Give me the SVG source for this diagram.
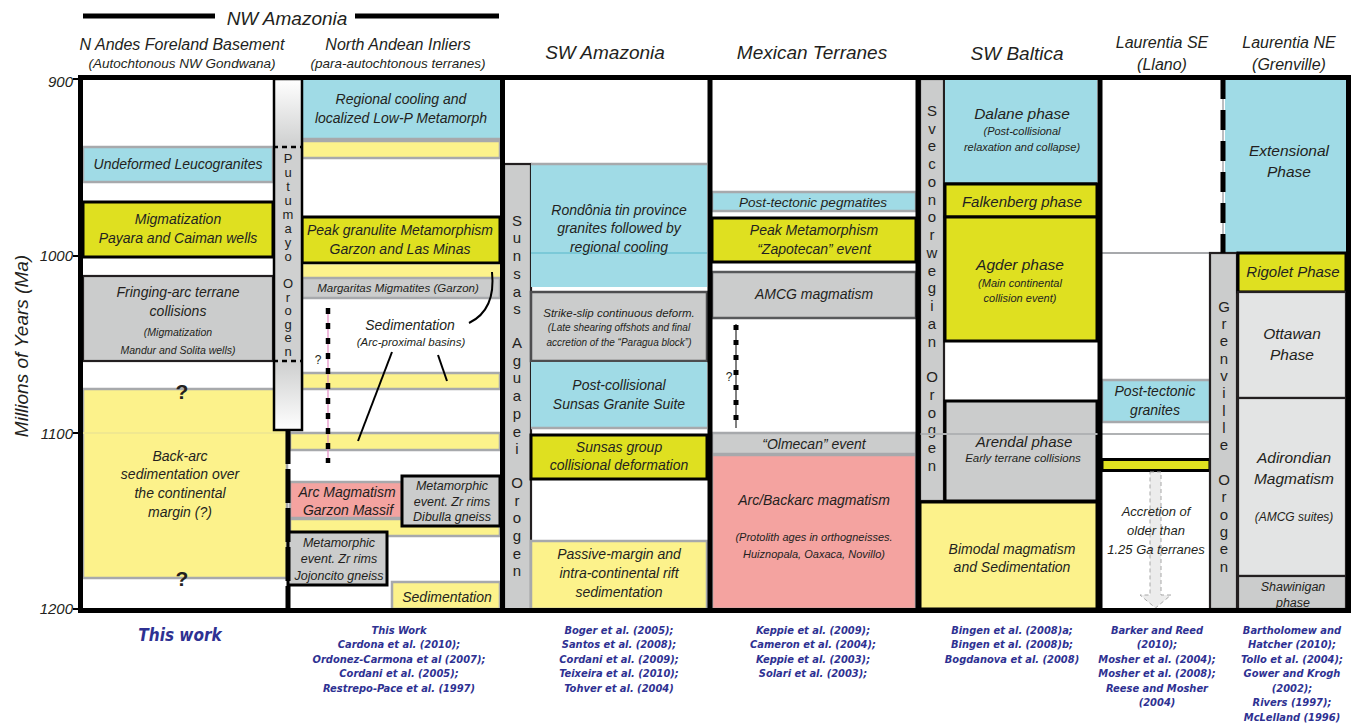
<svg xmlns="http://www.w3.org/2000/svg" width="1359" height="723" viewBox="0 0 1359 723">
<defs>
<linearGradient id="putu" x1="0" y1="0" x2="0" y2="1">
<stop offset="0" stop-color="#ffffff"/>
<stop offset="0.19" stop-color="#cfd0d0"/>
<stop offset="0.81" stop-color="#cfd0d0"/>
<stop offset="1" stop-color="#ffffff"/>
</linearGradient>
<style>
.b{fill:#a0dbe6}
.yg{fill:#dfe020}
.ly{fill:#fcf28b}
.g{fill:#cbcccc}
.pk{fill:#f4a3a0}
.lg{fill:#e3e4e4}
.kb{stroke:#000;stroke-width:3}
.kt{stroke:#231f20;stroke-width:2.2}
.gs{stroke:#a7a9ac;stroke-width:2.5}
.t{font-family:"Liberation Sans",Arial,sans-serif;font-style:italic;fill:#231f20;text-anchor:middle;font-size:14px}
.m{font-size:11.5px}
.s{font-size:10.5px}
.xs{font-size:10px}
.l{font-size:15.5px}
.hd{font-size:19px}
.h2{font-size:16px}
.h3{font-size:13.5px}
.v{font-family:"Liberation Sans",Arial,sans-serif;fill:#231f20;text-anchor:middle;font-size:15px}
.vp{font-size:13px}
.q{font-family:"Liberation Sans",Arial,sans-serif;font-weight:bold;font-size:21px;text-anchor:middle;fill:#231f20}
.qs{font-family:"Liberation Sans",Arial,sans-serif;font-size:12px;text-anchor:middle;fill:#231f20}
.ref{font-family:"Liberation Sans Narrow","DejaVu Sans Condensed",sans-serif;font-weight:bold;font-style:italic;fill:#2e3192;text-anchor:middle;font-size:11px}
.ax{font-family:"Liberation Sans",Arial,sans-serif;font-style:italic;fill:#231f20;text-anchor:end;font-size:15px}
</style>
</defs>
<rect x="0" y="0" width="1359" height="723" fill="#fff"/>

<!-- headers -->
<g id="headers">
<line x1="83" y1="16" x2="215" y2="16" stroke="#000" stroke-width="5"/>
<line x1="355" y1="16" x2="499" y2="16" stroke="#000" stroke-width="5"/>
<text class="t hd" x="287" y="25">NW Amazonia</text>
<text class="t h2" x="182" y="50">N Andes Foreland Basement</text>
<text class="t h3" x="182" y="68">(Autochtonous NW Gondwana)</text>
<text class="t h2" x="398" y="50">North Andean Inliers</text>
<text class="t h3" x="398" y="68">(para-autochtonous terranes)</text>
<text class="t hd" x="605" y="59">SW Amazonia</text>
<text class="t hd" x="812" y="59">Mexican Terranes</text>
<text class="t hd" x="1017" y="60">SW Baltica</text>
<text class="t h2" x="1162" y="48">Laurentia SE</text>
<text class="t h2" x="1162" y="70">(Llano)</text>
<text class="t h2" x="1289" y="48">Laurentia NE</text>
<text class="t h2" x="1289" y="70">(Grenville)</text>
</g>

<!-- axis -->
<g id="axis">
<text class="ax" x="73" y="87">900</text>
<text class="ax" x="73" y="261">1000</text>
<text class="ax" x="73" y="439">1100</text>
<text class="ax" x="73" y="614">1200</text>
<g stroke="#000" stroke-width="2">
<line x1="73" y1="79" x2="80" y2="79"/>
<line x1="73" y1="256" x2="80" y2="256"/>
<line x1="73" y1="433" x2="80" y2="433"/>
<line x1="73" y1="609" x2="80" y2="609"/>
</g>
<text class="t" style="font-size:19px" transform="translate(28,346) rotate(-90)">Millions of Years (Ma)</text>
</g>

<!-- Column 1: N Andes Foreland Basement -->
<g id="c1-leuco"><rect x="83" y="147" width="190" height="35" class="b gs"/><text class="t" x="178" y="169">Undeformed Leucogranites</text></g>
<g id="c1-migm"><rect x="83" y="202" width="190" height="55" class="yg kb"/><text class="t" x="178" y="224">Migmatization</text><text class="t" x="178" y="243">Payara and Caiman wells</text></g>
<g id="c1-fring"><rect x="83" y="276" width="190" height="85" class="g kt"/><text class="t" x="178" y="297">Fringing-arc terrane</text><text class="t" x="178" y="316">collisions</text><text class="t s" x="178" y="336">(Migmatization</text><text class="t s" x="178" y="354">Mandur and Solita wells)</text></g>
<g id="c1-backarc"><rect x="83" y="389" width="204" height="189" class="ly gs"/>
<line x1="83" y1="433" x2="287" y2="433" stroke="#ece592" stroke-width="1.5"/>
<text class="q" x="182" y="399">?</text><text class="q" x="182" y="586">?</text>
<text class="t" x="180" y="461">Back-arc</text><text class="t" x="180" y="479">sedimentation over</text><text class="t" x="180" y="498">the continental</text><text class="t" x="180" y="517">margin (?)</text></g>

<!-- Column 2: North Andean Inliers -->
<g id="c2-cool"><rect x="302" y="80" width="198" height="59" class="b"/><line x1="302" y1="139" x2="500" y2="139" class="gs"/><text class="t" x="401" y="104">Regional cooling and</text><text class="t" x="401" y="123">localized Low-P Metamorph</text></g>
<g id="c2-band1"><rect x="302" y="141" width="198" height="17" class="ly gs"/></g>
<g id="c2-peak"><rect x="302" y="217" width="198" height="46" class="yg kb"/><text class="t" x="400" y="235">Peak granulite Metamorphism</text><text class="t" x="400" y="254">Garzon and Las Minas</text></g>
<g id="c2-band2"><rect x="302" y="264.5" width="198" height="13" class="ly"/></g>
<g id="c2-marg"><rect x="302" y="278" width="198" height="20" class="g gs"/><text class="t m" x="398" y="292">Margaritas Migmatites (Garzon)</text></g>
<g id="c2-band3"><rect x="302" y="373" width="198" height="16" class="ly gs"/></g>
<g id="c2-band4"><rect x="290" y="433" width="210" height="17" class="ly gs"/></g>
<g id="c2-arc"><rect x="290" y="482" width="112" height="36" class="pk gs"/><text class="t" x="347" y="497">Arc Magmatism</text><text class="t" x="348" y="515">Garzon Massif</text></g>
<g id="c2-band5"><rect x="290" y="519" width="210" height="17" class="ly gs"/></g>
<g id="c2-dibulla"><rect x="402" y="476" width="98" height="50" class="g kb"/><text class="t" style="font-size:12.5px" x="452" y="490">Metamorphic</text><text class="t" style="font-size:12.5px" x="452" y="506">event. Zr rims</text><text class="t" style="font-size:12.5px" x="452" y="521">Dibulla gneiss</text></g>
<g id="c2-jojon"><rect x="288" y="532" width="99" height="53" class="g kb"/><text class="t" style="font-size:12.5px" x="339" y="547">Metamorphic</text><text class="t" style="font-size:12.5px" x="339" y="563">event. Zr rims</text><text class="t" style="font-size:12.5px" x="339" y="580">Jojoncito gneiss</text></g>
<g id="c2-sed"><rect x="392" y="582" width="108" height="27" class="ly gs"/><text class="t" x="447" y="602">Sedimentation</text></g>
<g id="c2-sedlabel"><text class="t" x="410" y="330">Sedimentation</text><text class="t m" x="411" y="346">(Arc-proximal basins)</text></g>

<!-- Putumayo orogen -->
<g id="putumayo">
<rect x="274" y="79" width="28" height="351" fill="url(#putu)" stroke="#000" stroke-width="2.5"/>
<line x1="273" y1="147" x2="302" y2="147" stroke="#000" stroke-width="2.5" stroke-dasharray="5 4"/>
<line x1="273" y1="361" x2="302" y2="361" stroke="#000" stroke-width="2.5" stroke-dasharray="5 4"/>
<text class="v vp"><tspan x="288" y="163">P</tspan><tspan x="288" y="177">u</tspan><tspan x="288" y="191">t</tspan><tspan x="288" y="205">u</tspan><tspan x="288" y="219">m</tspan><tspan x="288" y="233">a</tspan><tspan x="288" y="247">y</tspan><tspan x="288" y="261">o</tspan><tspan x="288" y="288">O</tspan><tspan x="288" y="302">r</tspan><tspan x="288" y="315">o</tspan><tspan x="288" y="329">g</tspan><tspan x="288" y="342">e</tspan><tspan x="288" y="356">n</tspan></text>
</g>

<!-- SW Amazonia -->
<g id="sunsas">
<rect x="504" y="164" width="27" height="446" class="g kt"/>
<text class="v"><tspan x="517" y="226">S</tspan><tspan x="517" y="243">u</tspan><tspan x="517" y="261">n</tspan><tspan x="517" y="279">s</tspan><tspan x="517" y="297">a</tspan><tspan x="517" y="314">s</tspan><tspan x="517" y="348">A</tspan><tspan x="517" y="366">g</tspan><tspan x="517" y="383">u</tspan><tspan x="517" y="401">a</tspan><tspan x="517" y="419">p</tspan><tspan x="517" y="437">e</tspan><tspan x="517" y="454">i</tspan><tspan x="517" y="488">O</tspan><tspan x="517" y="506">r</tspan><tspan x="517" y="523">o</tspan><tspan x="517" y="541">g</tspan><tspan x="517" y="559">e</tspan><tspan x="517" y="576">n</tspan></text>
</g>
<g id="swa-rond"><rect x="531" y="164" width="176" height="123" class="b"/><line x1="531" y1="164" x2="707" y2="164" class="gs"/><line x1="531" y1="253" x2="707" y2="253" stroke="#6fc3d3" stroke-width="1.5"/><text class="t" x="619" y="215">Rondônia tin province</text><text class="t" x="619" y="233">granites followed by</text><text class="t" x="619" y="252">regional cooling</text></g>
<g id="swa-strike"><rect x="531" y="292" width="176" height="69" class="g" stroke="#4d4d4f" stroke-width="2.5"/><text class="t m" x="619" y="317">Strike-slip continuous deform.</text><text class="t xs" x="619" y="331">(Late shearing offshots and final</text><text class="t xs" x="619" y="346">accretion of the “Paragua block”)</text></g>
<g id="swa-post"><rect x="531" y="362" width="176" height="66" class="b"/><line x1="531" y1="428" x2="707" y2="428" class="gs"/><text class="t" x="619" y="390">Post-collisional</text><text class="t" x="619" y="409">Sunsas Granite Suite</text></g>
<g id="swa-group"><rect x="531" y="435" width="176" height="44" class="yg kb"/><text class="t" x="619" y="452">Sunsas group</text><text class="t" x="619" y="470">collisional deformation</text></g>
<g id="swa-passive"><rect x="531" y="541" width="176" height="68" class="ly gs"/><text class="t" x="619" y="559">Passive-margin and</text><text class="t" x="619" y="578">intra-continental rift</text><text class="t" x="619" y="597">sedimentation</text></g>

<!-- Mexican terranes -->
<g id="mx-peg"><rect x="712" y="192" width="204" height="19" class="b gs"/><text class="t" style="font-size:13.5px" x="813" y="207">Post-tectonic pegmatites</text></g>
<g id="mx-peak"><rect x="712" y="218" width="204" height="44" class="yg kb"/><text class="t" x="814" y="235">Peak Metamorphism</text><text class="t" x="814" y="254">“Zapotecan” event</text></g>
<g id="mx-amcg"><rect x="712" y="272" width="204" height="46" class="g" stroke="#58595b" stroke-width="2.5"/><text class="t" x="814" y="299">AMCG magmatism</text></g>
<g id="mx-olm"><rect x="712" y="433" width="204" height="21" class="g gs"/><text class="t" x="814" y="449">“Olmecan” event</text></g>
<g id="mx-arc"><rect x="712" y="455" width="204" height="154" class="pk gs"/><text class="t" x="814" y="505">Arc/Backarc magmatism</text><text class="t s" style="font-size:11px" x="814" y="541">(Protolith ages in orthogneisses.</text><text class="t s" style="font-size:11px" x="814" y="558">Huiznopala, Oaxaca, Novillo)</text></g>

<!-- SW Baltica -->
<g id="svec">
<rect x="920" y="79" width="24" height="422" class="g kt"/>
<text class="v"><tspan x="932" y="116">S</tspan><tspan x="932" y="134">v</tspan><tspan x="932" y="151">e</tspan><tspan x="932" y="169">c</tspan><tspan x="932" y="187">o</tspan><tspan x="932" y="205">n</tspan><tspan x="932" y="222">o</tspan><tspan x="932" y="240">r</tspan><tspan x="932" y="258">w</tspan><tspan x="932" y="276">e</tspan><tspan x="932" y="293">g</tspan><tspan x="932" y="311">i</tspan><tspan x="932" y="329">a</tspan><tspan x="932" y="347">n</tspan><tspan x="932" y="382">O</tspan><tspan x="932" y="400">r</tspan><tspan x="932" y="418">o</tspan><tspan x="932" y="435">g</tspan><tspan x="932" y="453">e</tspan><tspan x="932" y="471">n</tspan></text>
</g>
<g id="bal-dalane"><rect x="945" y="79" width="152" height="105" class="b"/><line x1="945" y1="184" x2="1097" y2="184" class="kb"/><text class="t l" x="1022" y="119">Dalane phase</text><text class="t s" style="font-size:11px" x="1022" y="135">(Post-collisional</text><text class="t s" style="font-size:11px" x="1022" y="151">relaxation and collapse)</text></g>
<g id="bal-falk"><rect x="945" y="184" width="152" height="33" class="yg kb"/><text class="t" style="font-size:15px" x="1022" y="207">Falkenberg phase</text></g>
<g id="bal-agder"><rect x="945" y="217" width="152" height="124" class="yg kb"/><text class="t l" x="1020" y="270">Agder phase</text><text class="t s" style="font-size:11px" x="1020" y="287">(Main continental</text><text class="t s" style="font-size:11px" x="1020" y="302">collision event)</text></g>
<g id="bal-arendal"><rect x="945" y="401" width="152" height="100" class="g kb"/><text class="t" style="font-size:15px" x="1024" y="447">Arendal phase</text><text class="t m" x="1023" y="462">Early terrane collisions</text></g>
<g id="bal-bimodal"><rect x="920" y="502" width="177" height="107" class="ly kb"/><text class="t" x="1012" y="554">Bimodal magmatism</text><text class="t" x="1012" y="572">and Sedimentation</text></g>
<line x1="920" y1="434" x2="1210" y2="434" stroke="#b0b2b4" stroke-width="2"/>

<!-- Laurentia SE -->
<g id="se-line"><line x1="1102" y1="253" x2="1210" y2="253" stroke="#a7a9ac" stroke-width="2"/></g>
<g id="se-granites"><rect x="1102" y="380" width="108" height="42" class="b gs"/><text class="t" x="1155" y="396">Post-tectonic</text><text class="t" x="1155" y="415">granites</text></g>
<g id="se-band"><rect x="1102" y="459.5" width="108" height="11" class="yg kb"/></g>
<g id="se-accretion">
<polygon points="1150,472 1161,472 1161,595 1171,595 1155.5,608 1140,595 1150,595" fill="#ececec" stroke="#a8a8a8" stroke-width="1" stroke-dasharray="4 3"/>
<text class="t" style="font-size:13px" x="1156" y="516">Accretion of</text><text class="t" style="font-size:13px" x="1156" y="535">older than</text><text class="t" style="font-size:13px" x="1156" y="554">1.25 Ga terranes</text>
</g>

<!-- Laurentia NE -->
<g id="ne-ext"><rect x="1225" y="79" width="121" height="174" class="b"/><text class="t l" x="1289" y="156">Extensional</text><text class="t l" x="1289" y="177">Phase</text></g>
<g id="grenville">
<rect x="1210" y="253" width="27" height="356" class="g kt"/>
<text class="v"><tspan x="1224" y="312">G</tspan><tspan x="1224" y="329">r</tspan><tspan x="1224" y="346">e</tspan><tspan x="1224" y="364">n</tspan><tspan x="1224" y="381">v</tspan><tspan x="1224" y="398">i</tspan><tspan x="1224" y="416">l</tspan><tspan x="1224" y="433">l</tspan><tspan x="1224" y="450">e</tspan><tspan x="1224" y="485">O</tspan><tspan x="1224" y="502">r</tspan><tspan x="1224" y="520">o</tspan><tspan x="1224" y="537">g</tspan><tspan x="1224" y="554">e</tspan><tspan x="1224" y="572">n</tspan></text>
</g>
<g id="ne-rigolet"><rect x="1238" y="253" width="108" height="39" class="yg kb"/><text class="t" style="font-size:15px" x="1293" y="277">Rigolet Phase</text></g>
<g id="ne-ottawan"><rect x="1238" y="292" width="108" height="106" class="lg kt"/><text class="t l" x="1292" y="339">Ottawan</text><text class="t l" x="1292" y="360">Phase</text></g>
<g id="ne-adir"><rect x="1238" y="398" width="108" height="178" class="lg kt"/><text class="t l" x="1294" y="463">Adirondian</text><text class="t l" x="1294" y="484">Magmatism</text><text class="t" style="font-size:12px" x="1294" y="521">(AMCG suites)</text></g>
<g id="ne-shaw"><rect x="1238" y="576" width="108" height="33" class="g kt"/><text class="t" style="font-size:12.5px" x="1293" y="591">Shawinigan</text><text class="t" style="font-size:12.5px" x="1293" y="607">phase</text></g>

<!-- connectors / boundary markers -->
<g id="connectors" fill="none">
<line x1="288" y1="430" x2="288" y2="609" stroke="#000" stroke-width="5" stroke-dasharray="34 5"/>
<line x1="328" y1="308" x2="328" y2="463" stroke="#e58bc4" stroke-width="1.2"/>
<line x1="328" y1="308" x2="328" y2="463" stroke="#000" stroke-width="4.5" stroke-dasharray="6 9"/>
<text class="qs" x="318" y="364">?</text>
<line x1="736" y1="324" x2="736" y2="428" stroke="#000" stroke-width="1"/>
<line x1="736" y1="325" x2="736" y2="428" stroke="#000" stroke-width="5" stroke-dasharray="5 10"/>
<text class="qs" x="729" y="381">?</text>
<path d="M469 323 Q496 310 492 272" stroke="#000" stroke-width="2"/>
<line x1="392" y1="352" x2="358" y2="441" stroke="#000" stroke-width="2"/>
<line x1="438" y1="355" x2="447" y2="381" stroke="#000" stroke-width="2"/>
<line x1="1223" y1="79" x2="1223" y2="253" stroke="#a7a9ac" stroke-width="1.5"/>
<line x1="1223" y1="79" x2="1223" y2="253" stroke="#000" stroke-width="5" stroke-dasharray="20 11"/>
</g>

<!-- frame -->
<g id="frame" fill="none" stroke="#000" stroke-width="5">
<rect x="80.5" y="77.5" width="1268" height="533"/>
<line x1="502.5" y1="77" x2="502.5" y2="612"/>
<line x1="710" y1="77" x2="710" y2="612"/>
<line x1="918" y1="77" x2="918" y2="612"/>
<line x1="1100" y1="77" x2="1100" y2="612"/>
</g>

<!-- references -->
<g id="refs">
<text class="ref" style="font-size:17px" x="180" y="641">This work</text>
<text class="ref"><tspan x="399" y="634">This Work</tspan><tspan x="399" y="648">Cardona et al. (2010);</tspan><tspan x="399" y="663">Ordonez-Carmona et al (2007);</tspan><tspan x="399" y="677">Cordani et al. (2005);</tspan><tspan x="399" y="692">Restrepo-Pace et al. (1997)</tspan></text>
<text class="ref"><tspan x="619" y="634">Boger et al. (2005);</tspan><tspan x="619" y="648">Santos et al. (2008);</tspan><tspan x="619" y="663">Cordani et al. (2009);</tspan><tspan x="619" y="677">Teixeira et al. (2010);</tspan><tspan x="619" y="692">Tohver et al. (2004)</tspan></text>
<text class="ref"><tspan x="813" y="634">Keppie et al. (2009);</tspan><tspan x="813" y="648">Cameron et al. (2004);</tspan><tspan x="813" y="663">Keppie et al. (2003);</tspan><tspan x="813" y="677">Solari et al. (2003);</tspan></text>
<text class="ref"><tspan x="1012" y="634">Bingen et al. (2008)a;</tspan><tspan x="1012" y="648">Bingen et al. (2008)b;</tspan><tspan x="1012" y="663">Bogdanova et al. (2008)</tspan></text>
<text class="ref"><tspan x="1157" y="634">Barker and Reed</tspan><tspan x="1157" y="648">(2010);</tspan><tspan x="1157" y="663">Mosher et al. (2004);</tspan><tspan x="1157" y="677">Mosher et al. (2008);</tspan><tspan x="1157" y="692">Reese and Mosher</tspan><tspan x="1157" y="706">(2004)</tspan></text>
<text class="ref"><tspan x="1292" y="634">Bartholomew and</tspan><tspan x="1292" y="648">Hatcher (2010);</tspan><tspan x="1292" y="663">Tollo et al. (2004);</tspan><tspan x="1292" y="677">Gower and Krogh</tspan><tspan x="1292" y="692">(2002);</tspan><tspan x="1292" y="706">Rivers (1997);</tspan><tspan x="1292" y="721">McLelland (1996)</tspan></text>
</g>
</svg>
